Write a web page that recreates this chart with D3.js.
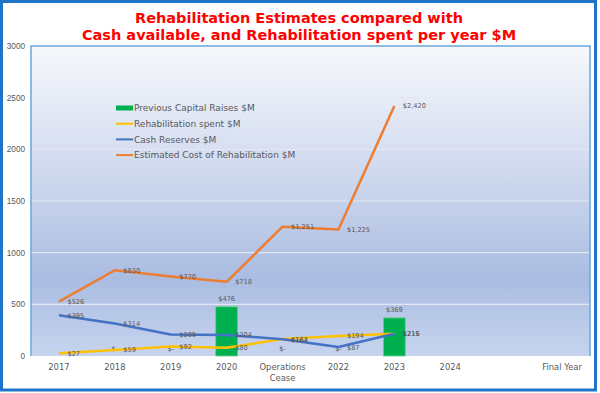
<!DOCTYPE html>
<html>
<head>
<meta charset="utf-8">
<script src="https://cdn.jsdelivr.net/npm/d3@7"></script>
<style>
  body { margin: 0; background: #fff; }
  svg { display: block; font-family: "DejaVu Sans", Verdana, sans-serif; }
</style>
</head>
<body>
<script>
const categories = ["2017", "2018", "2019", "2020", "Operations Cease", "2022", "2023", "2024", "", "Final Year"]
const capitalRaises = [null, 0, 0, 476, 0, 0, 369]
const rehabSpent = [27, 59, 92, 80, 164, 194, 216]
const cashReserves = [395, 314, 209, 204, 161, 87, 215]
const estimatedCost = [526, 830, 770, 718, 1251, 1225, 2420]
const yTicks = [0, 500, 1000, 1500, 2000, 2500, 3000]

const w = 600
const h = 393
const plotLeft = 31, plotRight = 590, plotTop = 46, plotBottom = 356

const svg = d3.select("body")
  .append("svg")
  .attr("width", w)
  .attr("height", h)

const defs = svg.append("defs")
const grad = defs.append("linearGradient")
  .attr("id", "bg")
  .attr("x1", 0).attr("y1", 0).attr("x2", 0).attr("y2", 1)
grad.append("stop").attr("offset", "0%").attr("stop-color", "#f7f8fc")
grad.append("stop").attr("offset", "50%").attr("stop-color", "#c6d2eb")
grad.append("stop").attr("offset", "75%").attr("stop-color", "#aabce2")
grad.append("stop").attr("offset", "100%").attr("stop-color", "#c6d4ee")

// outer frame
svg.append("rect")
  .attr("x", 1.5).attr("y", 1.5)
  .attr("width", 594).attr("height", 388.5)
  .attr("fill", "none")
  .attr("stroke", "#1d74c9")
  .attr("stroke-width", 3)

const xScale = d3.scaleBand()
  .domain(categories)
  .range([plotLeft, plotRight])

const yScale = d3.scaleLinear()
  .domain([0, 3000])
  .range([plotBottom, plotTop])

// plot area
svg.append("rect")
  .attr("x", plotLeft).attr("y", plotTop)
  .attr("width", plotRight - plotLeft).attr("height", plotBottom - plotTop)
  .attr("fill", "url(#bg)")

svg.selectAll(".grid")
  .data(yTicks.slice(1, -1))
  .enter()
  .append("line")
  .attr("class", "grid")
  .attr("x1", plotLeft).attr("x2", plotRight)
  .attr("y1", d => yScale(d)).attr("y2", d => yScale(d))
  .attr("stroke", "#e2e7f1")
  .attr("stroke-width", 1.2)

svg.append("path")
  .attr("d", "M" + plotLeft + "," + plotBottom + "V" + plotTop + "H" + plotRight + "V" + plotBottom)
  .attr("fill", "none")
  .attr("stroke", "#6aa8dc")
  .attr("stroke-width", 1.5)

// y axis
const yAxis = d3.axisLeft(yScale).tickValues(yTicks).tickFormat(d3.format("d")).tickSize(0).tickPadding(6)
const yg = svg.append("g")
  .attr("transform", "translate(" + plotLeft + ",0)")
  .call(yAxis)
yg.select(".domain").remove()
yg.selectAll("text").attr("fill", "#595959").style("font-size", "8.2px")

// x axis labels
const xg = svg.append("g")
xg.selectAll("text")
  .data(categories)
  .enter()
  .append("text")
  .attr("x", d => xScale(d) + xScale.bandwidth() / 2)
  .attr("y", 370)
  .attr("text-anchor", "middle")
  .attr("fill", "#595959")
  .style("font-size", "8.4px")
  .each(function(d) {
    const words = d === "Operations Cease" ? ["Operations", "Cease"] : [d]
    d3.select(this).selectAll("tspan")
      .data(words)
      .enter()
      .append("tspan")
      .attr("x", xScale(d) + xScale.bandwidth() / 2)
      .attr("dy", (t, i) => i === 0 ? 0 : 11)
      .text(t => t)
  })

const cx = i => xScale(categories[i]) + xScale.bandwidth() / 2
const barW = xScale.bandwidth() * 0.39

// bars
const bars = capitalRaises.map((v, i) => ({ v: v, i: i })).filter(d => d.v !== null)
svg.selectAll(".bar")
  .data(bars.filter(d => d.v > 0))
  .enter()
  .append("rect")
  .attr("class", "bar")
  .attr("x", d => cx(d.i) - barW / 2)
  .attr("y", d => yScale(d.v))
  .attr("width", barW)
  .attr("height", d => plotBottom - yScale(d.v))
  .attr("fill", "#00b050")
  .attr("stroke", "#5fd38a")
  .attr("stroke-width", 0.8)

svg.selectAll(".barlabel")
  .data(bars)
  .enter()
  .append("text")
  .attr("class", "barlabel")
  .attr("x", d => cx(d.i))
  .attr("y", d => yScale(d.v) - 5.5)
  .attr("text-anchor", "middle")
  .attr("fill", "#595959")
  .style("font-size", "6.6px")
  .text(d => d.v > 0 ? "$" + d3.format(",")(d.v) : "$-")

// lines
const series = [
  { values: rehabSpent, color: "#ffc000" },
  { values: cashReserves, color: "#4472c4" },
  { values: estimatedCost, color: "#ed7d31" }
]
const line = d3.line()
  .x((d, i) => cx(i))
  .y(d => yScale(d))

series.forEach(s => {
  svg.append("path")
    .datum(s.values)
    .attr("d", line)
    .attr("fill", "none")
    .attr("stroke", s.color)
    .attr("stroke-width", 2.5)
    .attr("stroke-linejoin", "round")
})

series.forEach(s => {
  svg.selectAll(null)
    .data(s.values)
    .enter()
    .append("text")
    .attr("x", (d, i) => cx(i) + 8.5)
    .attr("y", d => yScale(d) + 2.5)
    .attr("fill", "#595959")
    .style("font-size", "6.6px")
    .text(d => "$" + d3.format(",")(d))
})

// legend
const legendItems = [
  { name: "Previous Capital Raises $M", color: "#00b050", bar: true },
  { name: "Rehabilitation spent $M", color: "#ffc000" },
  { name: "Cash Reserves $M", color: "#4472c4" },
  { name: "Estimated Cost of Rehabilitation $M", color: "#ed7d31" }
]
const lg = svg.append("g").attr("transform", "translate(116,108)")
legendItems.forEach((d, i) => {
  if (d.bar) {
    lg.append("rect")
      .attr("x", 0).attr("y", i * 15.7 - 2.5)
      .attr("width", 17).attr("height", 5)
      .attr("fill", d.color)
  } else {
    lg.append("line")
      .attr("x1", 0).attr("x2", 17)
      .attr("y1", i * 15.7).attr("y2", i * 15.7)
      .attr("stroke", d.color)
      .attr("stroke-width", 2)
  }
  lg.append("text")
    .attr("x", 18)
    .attr("y", i * 15.7 + 3.3)
    .attr("fill", "#595959")
    .style("font-size", "9px")
    .text(d.name)
})

// title
svg.append("text")
  .attr("x", 299)
  .attr("y", 23)
  .attr("text-anchor", "middle")
  .attr("fill", "#ff0000")
  .style("font-size", "14.5px")
  .style("font-weight", "bold")
  .text("Rehabilitation Estimates compared with")

svg.append("text")
  .attr("x", 299)
  .attr("y", 40)
  .attr("text-anchor", "middle")
  .attr("fill", "#ff0000")
  .style("font-size", "14.5px")
  .style("font-weight", "bold")
  .text("Cash available, and Rehabilitation spent per year $M")
</script>
</body>
</html>
